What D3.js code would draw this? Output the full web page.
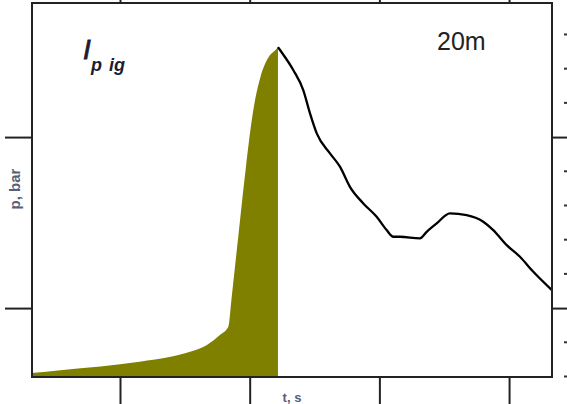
<!DOCTYPE html>
<html>
<head>
<meta charset="utf-8">
<script src="https://cdn.jsdelivr.net/npm/d3@7"></script>
<style>
  body { margin: 0; background: #fff; }
  svg { display: block; }
</style>
</head>
<body>
<div id="chart"></div>
<script>
// pressure trace (t in ms, p in bar)
var fillT = [3.2, 5.4, 8.5, 11.5, 13.9, 15.4, 16.7, 17.7, 18.35, 18.59, 18.73, 19.15, 19.71, 20.27, 20.83, 21.38, 22.08, 22.18];
var fillP = [0.62, 0.637, 0.658, 0.686, 0.715, 0.744, 0.784, 0.842, 0.891, 1.047, 1.146, 1.439, 1.825, 2.154, 2.351, 2.458, 2.517, 2.526];

var lineT = [22.18, 22.34, 23.36, 24.13, 24.65, 25.17, 26.19, 26.96, 27.73, 28.76, 29.79, 30.56, 31.07, 31.59, 33.13, 33.65, 34.42, 35.44, 36.73, 38.01, 38.78, 39.82, 40.84, 41.87, 43.3];
var lineP = [2.526, 2.509, 2.392, 2.275, 2.139, 2.022, 1.905, 1.827, 1.709, 1.612, 1.534, 1.456, 1.417, 1.417, 1.408, 1.446, 1.495, 1.554, 1.544, 1.505, 1.456, 1.368, 1.300, 1.212, 1.105];

var xTicks = [10, 20, 30, 40];
var yTicks = [1, 2];
var yMinor = [0.6, 0.8, 1.2, 1.4, 1.6, 1.8, 2.2, 2.4, 2.6];

var margin = {top: 3, right: 15, bottom: 27, left: 32},
    width = 567 - margin.left - margin.right,
    height = 404 - margin.top - margin.bottom;

var svg = d3.select("#chart")
  .append("svg")
    .attr("width", 567)
    .attr("height", 404)
  .append("g")
    .attr("transform", "translate(" + margin.left + "," + margin.top + ")");

var x = d3.scaleLinear().domain([3.215, 43.31]).range([0, width]);
var y = d3.scaleLinear().domain([0.597, 2.784]).range([height, 0]);

var fillData = fillT.map(function(t, i){ return {t: t, p: fillP[i]}; });
var lineData = lineT.map(function(t, i){ return {t: t, p: lineP[i]}; });

// filled part up to the peak
svg.append("path")
  .datum(fillData)
  .attr("fill", "#808000")
  .attr("d", d3.area()
    .x(function(d){ return x(d.t); })
    .y0(y(y.domain()[0]))
    .y1(function(d){ return y(d.p); })
    .curve(d3.curveMonotoneX));

// line after the peak
svg.append("path")
  .datum(lineData)
  .attr("fill", "none")
  .attr("stroke", "#000")
  .attr("stroke-width", 2.3)
  .attr("d", d3.line()
    .x(function(d){ return x(d.t); })
    .y(function(d){ return y(d.p); })
    .curve(d3.curveMonotoneX));

// axes, long ticks outside, no labels
var tl = 27;
svg.append("g").attr("class", "axis")
  .attr("transform", "translate(0," + height + ")")
  .call(d3.axisBottom(x).tickValues(xTicks).tickSize(tl).tickFormat(""));
svg.append("g").attr("class", "axis")
  .call(d3.axisTop(x).tickValues(xTicks).tickSize(tl).tickFormat(""));
svg.append("g").attr("class", "axis")
  .call(d3.axisLeft(y).tickValues(yTicks).tickSize(tl).tickFormat(""));
svg.append("g").attr("class", "axis")
  .attr("transform", "translate(" + width + ",0)")
  .call(d3.axisRight(y).tickValues(yTicks).tickSize(tl).tickFormat(""));

// little minor marks on the right
svg.selectAll(".minor")
  .data(yMinor)
  .enter()
  .append("line")
    .attr("x1", width + 12)
    .attr("x2", width + 15)
    .attr("y1", function(d){ return y(d); })
    .attr("y2", function(d){ return y(d); })
    .attr("stroke", "#333")
    .attr("stroke-width", 2);

svg.selectAll(".axis path").attr("stroke", "none");
svg.selectAll(".axis line").attr("stroke", "#222").attr("stroke-width", 2);

// frame
svg.append("rect")
  .attr("width", width)
  .attr("height", height)
  .attr("fill", "none")
  .attr("stroke", "#222")
  .attr("stroke-width", 2);

// labels
svg.append("text")
  .attr("x", 83 - margin.left)
  .attr("y", 59 - margin.top)
  .style("font", "italic 28px 'Liberation Sans', Arial, sans-serif")
  .attr("fill", "#1c1c30")
  .attr("stroke", "#1c1c30")
  .attr("stroke-width", 0.8)
  .text("I");
svg.append("text")
  .attr("x", 91 - margin.left)
  .attr("y", 71 - margin.top)
  .style("font", "italic bold 18px 'Liberation Sans', Arial, sans-serif")
  .attr("fill", "#1c1c30")
  .text("p");
svg.append("text")
  .attr("x", 109 - margin.left)
  .attr("y", 71 - margin.top)
  .style("font", "italic bold 18px 'Liberation Sans', Arial, sans-serif")
  .attr("fill", "#1c1c30")
  .text("ig");

svg.append("text")
  .attr("x", 437 - margin.left)
  .attr("y", 50 - margin.top)
  .style("font", "25px 'Liberation Sans', Arial, sans-serif")
  .attr("fill", "#222")
  .text("20m");

svg.append("text")
  .attr("transform", "translate(" + (20 - margin.left) + "," + (189 - margin.top) + ") rotate(-90)")
  .attr("text-anchor", "middle")
  .style("font", "bold 15px 'Liberation Sans', Arial, sans-serif")
  .attr("fill", "#56607a")
  .text("p, bar");

svg.append("text")
  .attr("x", 292 - margin.left)
  .attr("y", 402 - margin.top)
  .attr("text-anchor", "middle")
  .style("font", "bold 13px 'Liberation Sans', Arial, sans-serif")
  .attr("fill", "#56607a")
  .text("t, s");
</script>
</body>
</html>
